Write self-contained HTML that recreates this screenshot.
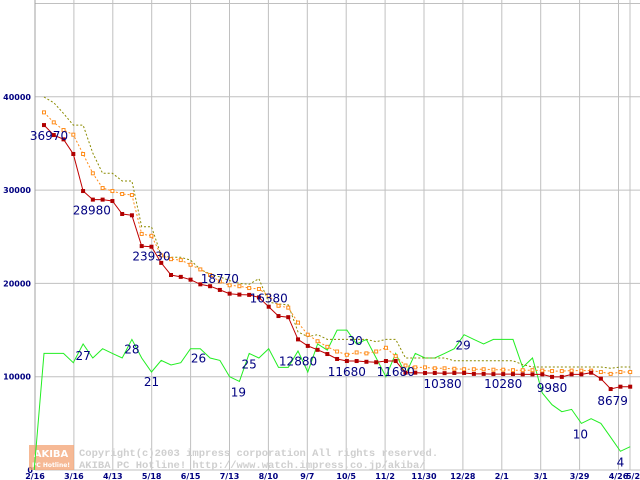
<!DOCTYPE html>
<html><head><meta charset="utf-8"><style>
html,body{margin:0;padding:0;background:#fff;}
svg{display:block;font-family:"DejaVu Sans","Liberation Sans",sans-serif;}
</style></head><body>
<svg id="chart" width="640" height="480" viewBox="0 0 640 480" xmlns="http://www.w3.org/2000/svg">
<rect x="0" y="0" width="640" height="480" fill="#fff"/>
<g id="grid"></g>
<g id="watermark">
  <rect x="29" y="445" width="45" height="25" fill="#f4a77a" opacity="0.8"/>
  <text x="51" y="457" font-size="10" font-weight="bold" fill="#fff" text-anchor="middle">AKIBA</text>
  <text x="51" y="467" font-size="6" font-weight="bold" fill="#fff" text-anchor="middle">PC Hotline!</text>
  <text x="79" y="456" font-family="Liberation Mono, monospace" font-size="10.5" font-weight="bold" fill="#cfcfcf">Copyright(c)2003 impress corporation All rights reserved.</text>
  <text x="79" y="468" font-family="Liberation Mono, monospace" font-size="10.5" font-weight="bold" fill="#cfcfcf">AKIBA PC Hotline!  http://www.watch.impress.co.jp/akiba/</text>
</g>
<g id="series"></g>
<g id="labels"></g>
</svg>
<script>
const yTicks = [0, 10000, 20000, 30000, 40000, 50000];
const xTickLabels = ["2/16","3/16","4/13","5/18","6/15","7/13","8/10","9/7","10/5","11/2","11/30","12/28","2/1","3/1","3/29","4/26","5/2"];
const minPrice = [36970,35900,35440,33870,29900,28980,28980,28830,27440,27300,
24000,23930,22200,20900,20700,20400,19900,19700,19300,18900,
18800,18770,18500,17500,16500,16380,14000,13300,12880,12430,
11900,11680,11680,11600,11550,11680,11680,10430,10430,10400,
10400,10380,10400,10400,10300,10300,10280,10280,10280,10250,
10250,10250,9980,9980,10250,10250,10430,9790,8679,8930,8930];
const avgPrice = [38330,37260,36440,35940,33870,31800,30220,29900,29580,29470,
25300,25100,23000,22600,22500,22000,21500,20900,20200,19800,
19700,19500,19400,18700,17600,17400,15800,14500,13800,13200,
12700,12350,12600,12500,12700,13100,12200,11200,11000,11000,
10900,10900,10850,10800,10800,10800,10750,10750,10700,10700,
10700,10650,10600,10600,10650,10650,10650,10500,10300,10500,10500];
const maxPrice = [39980,39370,38220,36970,36970,33970,31800,31800,30970,30970,
26070,26070,23000,22800,22800,22500,21500,21000,20700,20300,
20000,19900,20500,18000,17800,17700,14800,14300,14500,14000,
14000,14000,14000,14000,13750,14000,14000,12000,12000,12000,
12000,12000,11700,11700,11700,11700,11700,11700,11700,11300,
11040,11040,11040,11040,11040,11040,11040,11040,10900,11040,11040];
const shopCount = [0, 25,25,25,23,27,24,26,25,24,28,
24,21,23.5,22.5,23,26,26,24,23.5,20,
19,25,24,26,22,22,25.5,21,27,25.7,
30,30,27,28,24,20,25,20.5,25,24,
24,25,26,29,28,27,28,28,28,22,
24,16.5,14,12.5,13,10,11,10,7,4,5];
const priceLabelIdx = [0,5,11,18,23,26,31,36,41,47,52,58];
const priceLabelText = ["36970","28980","23930","18770","16380","12880","11680","11680","10380","10280","9980","8679"];
const priceLabelDx = [5,-1,0,0,0,0,0,0,-2,0,0,2];
const priceLabelDy = [15,15,14,-7,-4,26,15,15,15,14,15,16];
const countLabelIdx = [5,10,12,16,21,22,31,44,56,60];
const countLabelText = ["27","28","21","26","19","25","30","29","10","4"];
const countLabelDx = [0,0,0,8,-1,0,18,-1,-1,0];
const countLabelDy = [16,14,14,14,15,15,15,15,15,15];

const NS = "http://www.w3.org/2000/svg";
function xs(i){ return 44 + i*9.77; }
function yp(v){ return 470 - v*93.3/10000; }
function yc(v){ return 470 - v*4.665; }
function mk(tag, attrs, parent){ const e=document.createElementNS(NS,tag); for(const k in attrs) e.setAttribute(k,attrs[k]); parent.appendChild(e); return e; }

const grid=document.getElementById('grid');
yTicks.forEach(t=>{
  const l=mk('line',{x1:35,x2:640,y1:yp(t),y2:yp(t),stroke:'#c0c0c0','stroke-width':1},grid);
  
  
  if(t<50000){
    const tx=mk('text',{x:t===0?33:31,y:yp(t)+3,'font-size':8,'font-weight':'bold',fill:'#000080','text-anchor':'end'},grid);
    tx.textContent=t;
    
    
  }
});
xTickLabels.forEach((lab,k)=>{
  const x = k<16 ? 35 + k*38.9 : 630;
  const l=mk('line',{x1:x,x2:x,y1:0,y2:470,stroke:'#c0c0c0','stroke-width':1},grid);
  
  
  const tx=mk('text',{x:k<16?x:x+3,y:479,'font-size':8,'font-weight':'bold',fill:'#000080','text-anchor':'middle'},grid);
  tx.textContent=lab;
  
  
});
const ax=mk('line',{x1:35,x2:35,y1:0,y2:470,stroke:'#a0a0a0'},grid);



const series=document.getElementById('series');
function poly(vals,fy,color,dash,name,offset){
  const pts=vals.map((v,i)=>xs(i-offset).toFixed(1)+','+fy(v).toFixed(1)).join(' ');
  const p=mk('polyline',{points:pts,fill:'none',stroke:color,'stroke-width':1},series);
  if(dash) p.setAttribute('stroke-dasharray',dash);
  
  
}
poly(shopCount,yc,'#22ee22',null,'shop-count-line',1);
poly(maxPrice,yp,'#8b8b00','2,2','max-price-line',0);
poly(avgPrice,yp,'#ff8c1a','2,2','avg-price-line',0);
avgPrice.forEach((v,i)=>{
  const r=mk('rect',{x:xs(i)-1.5,y:yp(v)-1.5,width:3,height:3,fill:'#fff',stroke:'#ff8c1a','stroke-width':1},series);
  
  
});
poly(minPrice,yp,'#c00000',null,'min-price-line',0);
minPrice.forEach((v,i)=>{
  const r=mk('rect',{x:xs(i)-2,y:yp(v)-2,width:4,height:4,fill:'#b00000'},series);
  
  
});

const labels=document.getElementById('labels');
priceLabelIdx.forEach((i,k)=>{
  const tx=mk('text',{x:xs(i)+priceLabelDx[k],y:yp(minPrice[i])+priceLabelDy[k],'font-size':12,fill:'#000080','text-anchor':'middle'},labels);
  tx.textContent=priceLabelText[k];
  
  
});
countLabelIdx.forEach((i,k)=>{
  const tx=mk('text',{x:xs(i-1)+countLabelDx[k],y:yc(shopCount[i])+countLabelDy[k],'font-size':12,fill:'#000080','text-anchor':'middle'},labels);
  tx.textContent=countLabelText[k];
  
  
});
</script>
</body></html>
